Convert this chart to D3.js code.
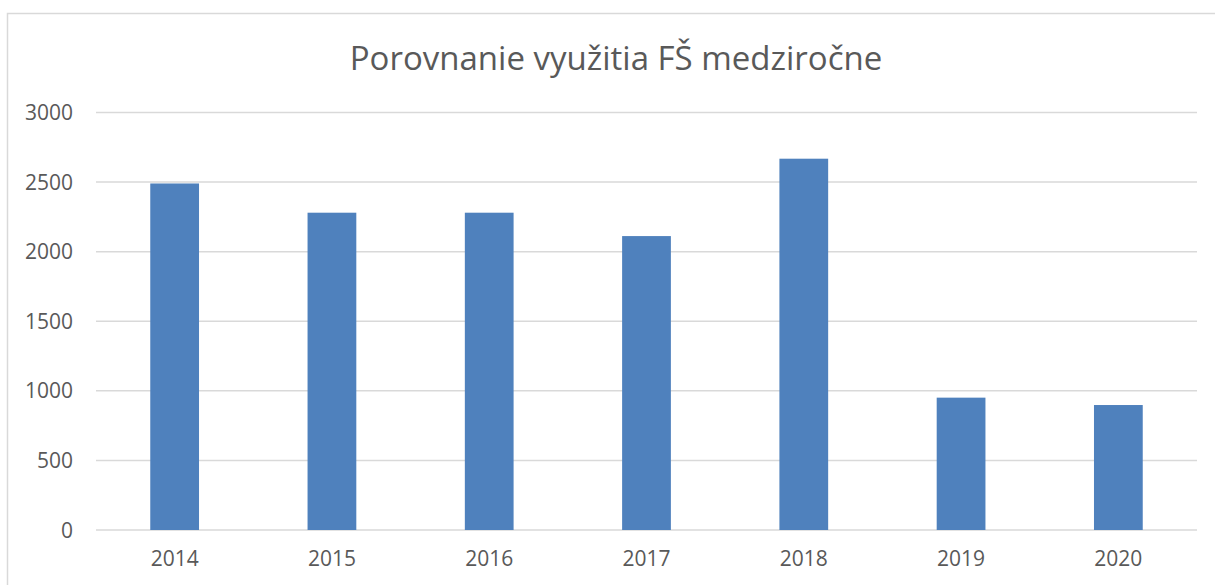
<!DOCTYPE html>
<html>
<head>
<meta charset="utf-8">
<script src="https://cdn.jsdelivr.net/npm/d3@7"></script>
<style>
  body { margin: 0; background: #fff; }
  svg { display: block; }
  .tick-text { font-family: "Open Sans", sans-serif; font-size: 21px; fill: #595959; }
</style>
</head>
<body>
<div id="chart"><svg></svg></div>
<script>
// data
var years = ["2014", "2015", "2016", "2017", "2018", "2019", "2020"];
var values = [2490, 2280, 2280, 2112, 2668, 951, 898];
var yTicks = [0, 500, 1000, 1500, 2000, 2500, 3000];
var title = "Porovnanie využitia FŠ medziročne";

var width = 1215,
    height = 585,
    margin = { top: 112, bottom: 55, left: 96, right: 18 };

var svg = d3.select("#chart svg")
    .attr("width", width)
    .attr("height", height);

// outer chart border (cut off at right and bottom)
svg.append("rect")
    .attr("x", 7.5)
    .attr("y", 13.5)
    .attr("width", width + 20)
    .attr("height", height + 20)
    .attr("fill", "none")
    .attr("stroke", "#d9d9d9")
    .attr("stroke-width", 1.5);

var x = d3.scaleBand()
    .domain(years)
    .range([margin.left, width - margin.right])
    .paddingInner(0.69)
    .paddingOuter(0.345);

var y = d3.scaleLinear()
    .domain([0, 3000])
    .range([530, 112.5]);

// gridlines
svg.append("g")
    .selectAll("line")
    .data(yTicks)
    .enter()
    .append("line")
    .attr("x1", margin.left)
    .attr("x2", width - margin.right)
    .attr("y1", d => y(d))
    .attr("y2", d => y(d))
    .attr("stroke", "#d9d9d9")
    .attr("stroke-width", 1.5);

// y labels
svg.append("g")
    .selectAll("text")
    .data(yTicks)
    .enter()
    .append("text")
    .attr("class", "tick-text")
    .attr("x", 73)
    .attr("y", d => y(d))
    .attr("dy", "0.36em")
    .attr("text-anchor", "end")
    .text(d => d);

// bars
svg.append("g")
    .selectAll("rect")
    .data(values)
    .enter()
    .append("rect")
    .attr("x", (d, i) => x(years[i]))
    .attr("width", x.bandwidth())
    .attr("y", d => y(d))
    .attr("height", d => y(0) - y(d))
    .attr("fill", "#4f81bd");

// x labels
svg.append("g")
    .selectAll("text")
    .data(years)
    .enter()
    .append("text")
    .attr("class", "tick-text")
    .attr("x", d => x(d) + x.bandwidth() / 2)
    .attr("y", 566)
    .attr("text-anchor", "middle")
    .text(d => d);

// title
svg.append("text")
    .attr("x", 616)
    .attr("y", 70)
    .attr("text-anchor", "middle")
    .style("font-family", "'Open Sans', sans-serif")
    .style("font-size", "33px")
    .style("fill", "#595959")
    .text(title);
</script>
</body>
</html>
